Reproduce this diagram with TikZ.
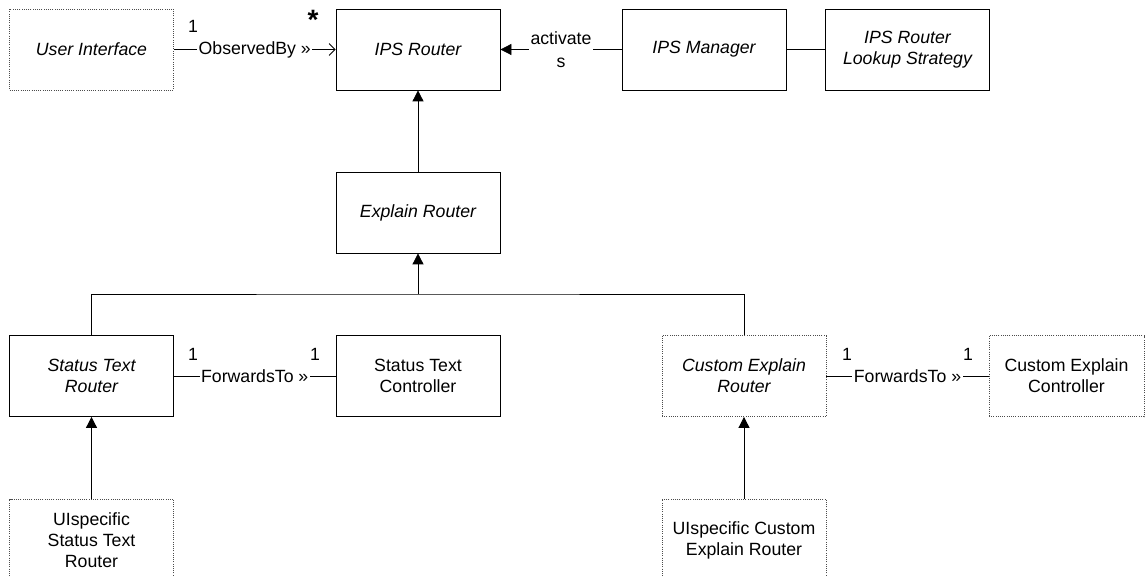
\documentclass[tikz,border=0pt]{standalone}
\usepackage{fontspec}
\setmainfont{Liberation Sans}
\usetikzlibrary{arrows.meta}
\begin{document}
\begin{tikzpicture}[x=1pt, y=-1pt, line width=0.8pt,
  font=\fontsize{17.7}{21}\selectfont,
  cls/.style={draw, minimum width=164pt, minimum height=81pt, align=center,
              inner sep=0pt, fill=white},
  abs/.style={cls, font=\fontsize{17.7}{21}\selectfont\itshape},
  dot/.style={dash pattern=on 1pt off 1.2pt, draw=black!70},
  gen/.style={-{Triangle[length=11pt,width=11pt]}},
  nav/.style={-{Straight Barb[length=6pt,width=12pt]}},
  lbl/.style={fill=white, inner sep=1.5pt, align=center},
  mult/.style={inner sep=0pt}]
\useasboundingbox (0,0) rectangle (1145,577);
\clip (0,0) rectangle (1145,577);

% classes
\node[abs, dot]  (ui)    at (91.5,49.5)  {User Interface};
\node[abs]       (ips)   at (418,49.5)   {IPS Router};
\node[abs]       (mgr)   at (704,49.5)   {IPS Manager};
\node[abs]       (strat) at (907.5,49.5) {IPS Router\\Lookup Strategy};
\node[abs]       (exp)   at (418,212.5)  {Explain Router};
\node[abs]       (str)   at (91.5,376)   {Status Text\\Router};
\node[cls]       (stc)   at (418,376)    {Status Text\\Controller};
\node[abs, dot]  (cer)   at (744,376)    {Custom Explain\\Router};
\node[cls, dot, minimum width=155pt] (cec) at (1066.5,376) {Custom Explain\\Controller};
\node[cls, dot, minimum height=82pt] (ustr) at (91.5,540) {UIspecific\\Status Text\\Router};
\node[cls, dot, minimum height=82pt] (ucer) at (744,540)  {UIspecific Custom\\Explain Router};

% associations
\draw[nav] (ui) -- node[lbl] {ObservedBy »} (ips);
\node[mult] (m1) at (193,26) {1};
\node[mult, font=\fontsize{28}{28}\selectfont\bfseries] (m2) at (313,20) {*};

\draw[gen] (mgr) -- node[lbl, font=\fontsize{17.7}{23}\selectfont] {activate\\s} (ips);
\draw (mgr) -- (strat);

\draw (str) -- node[lbl] {ForwardsTo »} (stc);
\node[mult] (m3) at (193,354) {1};
\node[mult] (m4) at (315,354) {1};

\draw (cer) -- node[lbl] {ForwardsTo »} (cec);
\node[mult] (m5) at (847,354) {1};
\node[mult] (m6) at (968,354) {1};

% generalizations
\draw[gen] (exp) -- (ips);
\coordinate (bar) at (418,294);
\draw (str.north) |- (bar) -| (cer.north);
\draw[gen] (bar) -- (exp.south);
\draw[gen] (ustr) -- (str);
\draw[gen] (ucer) -- (cer);
\end{tikzpicture}
\end{document}
